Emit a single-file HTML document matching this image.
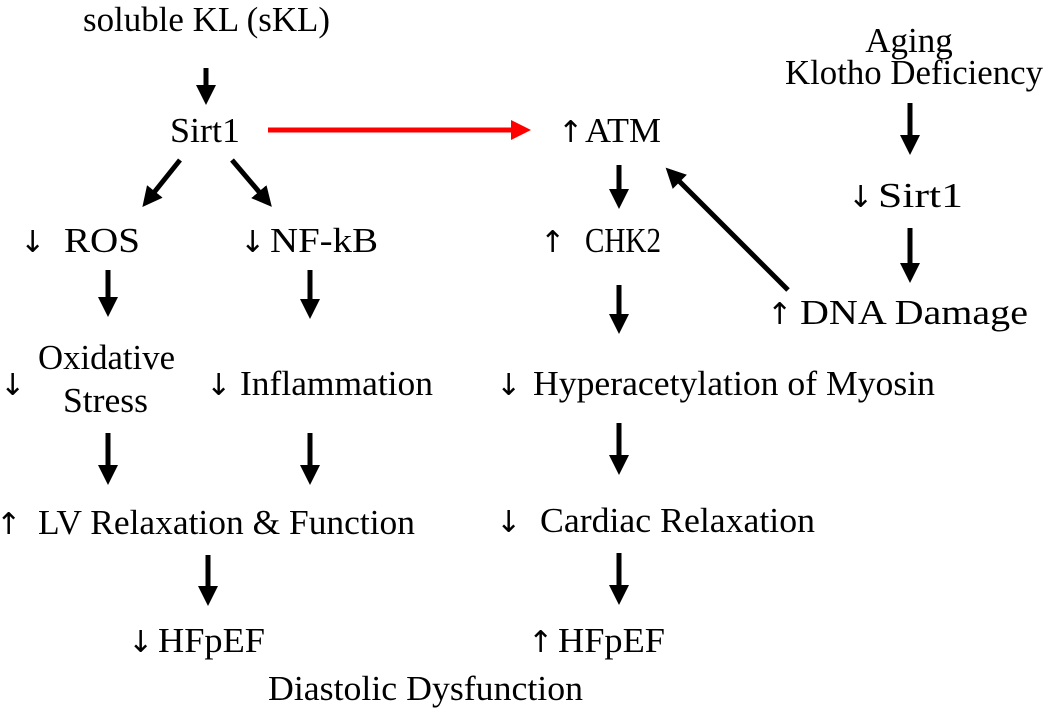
<!DOCTYPE html>
<html><head><meta charset="utf-8"><style>html,body{margin:0;padding:0;background:#fff}svg{display:block}</style></head><body>
<svg width="1050" height="709" viewBox="0 0 1050 709" xmlns="http://www.w3.org/2000/svg" font-family="'Liberation Serif', serif" fill="#000">
<defs>
<marker id="ah" markerWidth="4" markerHeight="4" refX="2.2" refY="2" orient="auto" markerUnits="strokeWidth"><path d="M0,0 L4,2 L0,4 Z" fill="#000"/></marker>
<marker id="ahr" markerWidth="4" markerHeight="4" refX="2.2" refY="2" orient="auto" markerUnits="strokeWidth"><path d="M0,0 L4,2 L0,4 Z" fill="#f00"/></marker>
</defs>
<g stroke="#000" stroke-width="5" marker-end="url(#ah)">
<line x1="206" y1="68" x2="206" y2="96"/>
<line x1="180" y1="160" x2="148" y2="200"/>
<line x1="232" y1="160" x2="266" y2="200"/>
<line x1="108" y1="270" x2="108" y2="308"/>
<line x1="310" y1="270" x2="310" y2="310"/>
<line x1="108" y1="433" x2="108" y2="476"/>
<line x1="310" y1="433" x2="310" y2="476"/>
<line x1="208" y1="555" x2="208" y2="597"/>
<line x1="619" y1="165" x2="619" y2="200"/>
<line x1="619" y1="285" x2="619" y2="325"/>
<line x1="619" y1="423" x2="619" y2="466"/>
<line x1="619" y1="553" x2="619" y2="596"/>
<line x1="910" y1="103" x2="910" y2="146"/>
<line x1="910" y1="228" x2="910" y2="274"/>
<line x1="788" y1="290" x2="672" y2="174"/>
</g>
<line x1="268" y1="130" x2="522" y2="130" stroke="#f00" stroke-width="5" marker-end="url(#ahr)"/>
<g font-size="35">
<text x="83" y="31" textLength="247" lengthAdjust="spacingAndGlyphs">soluble KL (sKL)</text>
<text x="170" y="142" textLength="70" lengthAdjust="spacingAndGlyphs">Sirt1</text>
<text x="585" y="142" textLength="76" lengthAdjust="spacingAndGlyphs">ATM</text>
<text x="585" y="252" textLength="76" lengthAdjust="spacingAndGlyphs">CHK2</text>
<text x="64" y="252" textLength="76" lengthAdjust="spacingAndGlyphs">ROS</text>
<text x="270" y="252" textLength="108" lengthAdjust="spacingAndGlyphs">NF-kB</text>
<text x="38" y="369" textLength="137" lengthAdjust="spacingAndGlyphs">Oxidative</text>
<text x="63" y="412" textLength="85" lengthAdjust="spacingAndGlyphs">Stress</text>
<text x="240" y="395" textLength="193" lengthAdjust="spacingAndGlyphs">Inflammation</text>
<text x="533" y="395" textLength="402" lengthAdjust="spacingAndGlyphs">Hyperacetylation of Myosin</text>
<text x="38" y="534" textLength="377" lengthAdjust="spacingAndGlyphs">LV Relaxation &amp; Function</text>
<text x="540" y="532" textLength="275" lengthAdjust="spacingAndGlyphs">Cardiac Relaxation</text>
<text x="158" y="652" textLength="107" lengthAdjust="spacingAndGlyphs">HFpEF</text>
<text x="558" y="652" textLength="107" lengthAdjust="spacingAndGlyphs">HFpEF</text>
<text x="268" y="700" textLength="315" lengthAdjust="spacingAndGlyphs">Diastolic Dysfunction</text>
<text x="909" y="52" text-anchor="middle">Aging</text>
<text x="785" y="84" textLength="258" lengthAdjust="spacingAndGlyphs">Klotho Deficiency</text>
<text x="878" y="207" textLength="85" lengthAdjust="spacingAndGlyphs">Sirt1</text>
<text x="800" y="324" textLength="228" lengthAdjust="spacingAndGlyphs">DNA Damage</text>
</g>
<g font-size="30" font-family="'DejaVu Sans', sans-serif">
<text x="558" y="142">↑</text>
<text x="540" y="252">↑</text>
<text x="20" y="252">↓</text>
<text x="240" y="252">↓</text>
<text x="0" y="395">↓</text>
<text x="206" y="395">↓</text>
<text x="496" y="395">↓</text>
<text x="-4" y="534">↑</text>
<text x="496" y="532">↓</text>
<text x="128" y="652">↓</text>
<text x="528" y="652">↑</text>
<text x="848" y="207">↓</text>
<text x="767" y="324">↑</text>
</g>
</svg>
</body></html>
